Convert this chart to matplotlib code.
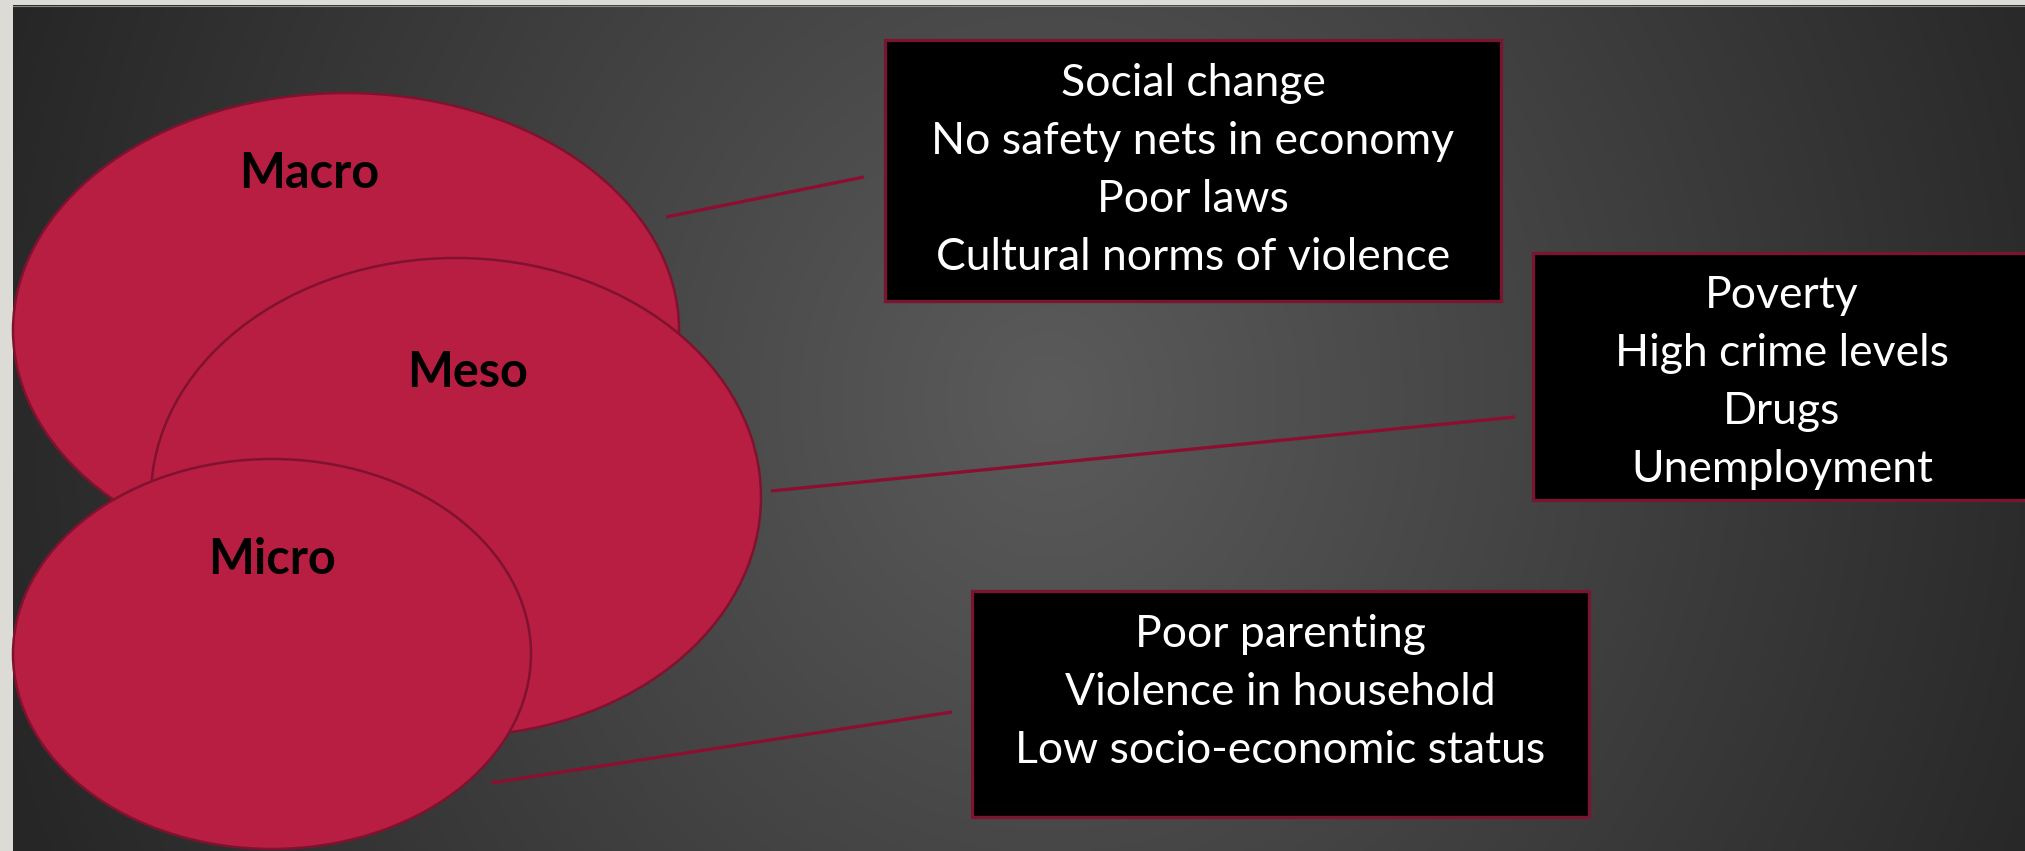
import numpy as np
import matplotlib.pyplot as plt
from matplotlib.patches import Ellipse, Rectangle

W, H = 2025, 851

# diagram content
levels = ["Macro", "Meso", "Micro"]
macro_factors = ["Social change", "No safety nets in economy", "Poor laws",
                 "Cultural norms of violence"]
meso_factors = ["Poverty", "High crime levels", "Drugs", "Unemployment"]
micro_factors = ["Poor parenting", "Violence in household",
                 "Low socio-economic status"]
factors = [macro_factors, meso_factors, micro_factors]

# layout, in pixels (y goes down)
ellipse_xy = [(346, 330), (456, 497), (272, 654)]
ellipse_wh = [(666, 474), (610, 478), (518, 390)]
label_xy = [(309, 188), (468, 387), (272, 574)]
box_rects = [(885, 40, 616, 261), (1533, 253, 498, 247), (972, 591, 617, 226)]
first_baseline = [96, 308, 647]
line_gap = 58
leaders = [((666, 217), (864, 177)), ((771, 491), (1515, 417)),
           ((491, 783), (952, 712))]

fill = "#b71e42"
edge = "#80122f"
lead = "#8c0f32"
box_edge = "#7a1530"

fig = plt.figure(figsize=(W / 100, H / 100), dpi=100)
fig.patch.set_facecolor("#dddbd6")
ax = fig.add_axes([0, 0, 1, 1])
ax.axis("off")

# radial grey background of the slide
left, top = 13, 5
yy, xx = np.mgrid[top:H, left:W] + 0.5
t = np.sqrt(((xx - 1050) / 1100) ** 2 + ((yy - 400) / 1200) ** 2)
t = np.clip(t, 0, 1)
v = (91 + (38 - 91) * t) / 255
ax.imshow(np.dstack([v, v, v]), extent=(left, W, H, top), origin="upper",
          aspect="auto", zorder=0, interpolation="bilinear")
ax.plot([left, W], [top + 0.5, top + 0.5], color="#8a8a8a", lw=0.8, zorder=0.5)

for (x0, y0), (x1, y1) in leaders:
    ax.plot([x0, x1], [y0, y1], color=lead, lw=2.4, solid_capstyle="butt",
            zorder=1)

for i, name in enumerate(levels):
    ax.add_patch(Ellipse(ellipse_xy[i], *ellipse_wh[i], facecolor=fill,
                         edgecolor=edge, lw=1.8, zorder=2 + i))
    ax.text(*label_xy[i], name, ha="center", va="baseline", fontsize=35,
            fontweight="bold", family="Lato", color="black", zorder=6)

for i, lines in enumerate(factors):
    bx, by, bw, bh = box_rects[i]
    ax.add_patch(Rectangle((bx, by), bw, bh, facecolor="black",
                           edgecolor=box_edge, lw=2.4, zorder=6))
    cx = bx + bw / 2
    for k, s in enumerate(lines):
        ax.text(cx, first_baseline[i] + k * line_gap, s, ha="center",
                va="baseline", fontsize=32, family="Lato", color="white",
                zorder=7)

ax.set_xlim(0, W)
ax.set_ylim(H, 0)
fig.savefig("out.png", dpi=100, facecolor=fig.get_facecolor())
